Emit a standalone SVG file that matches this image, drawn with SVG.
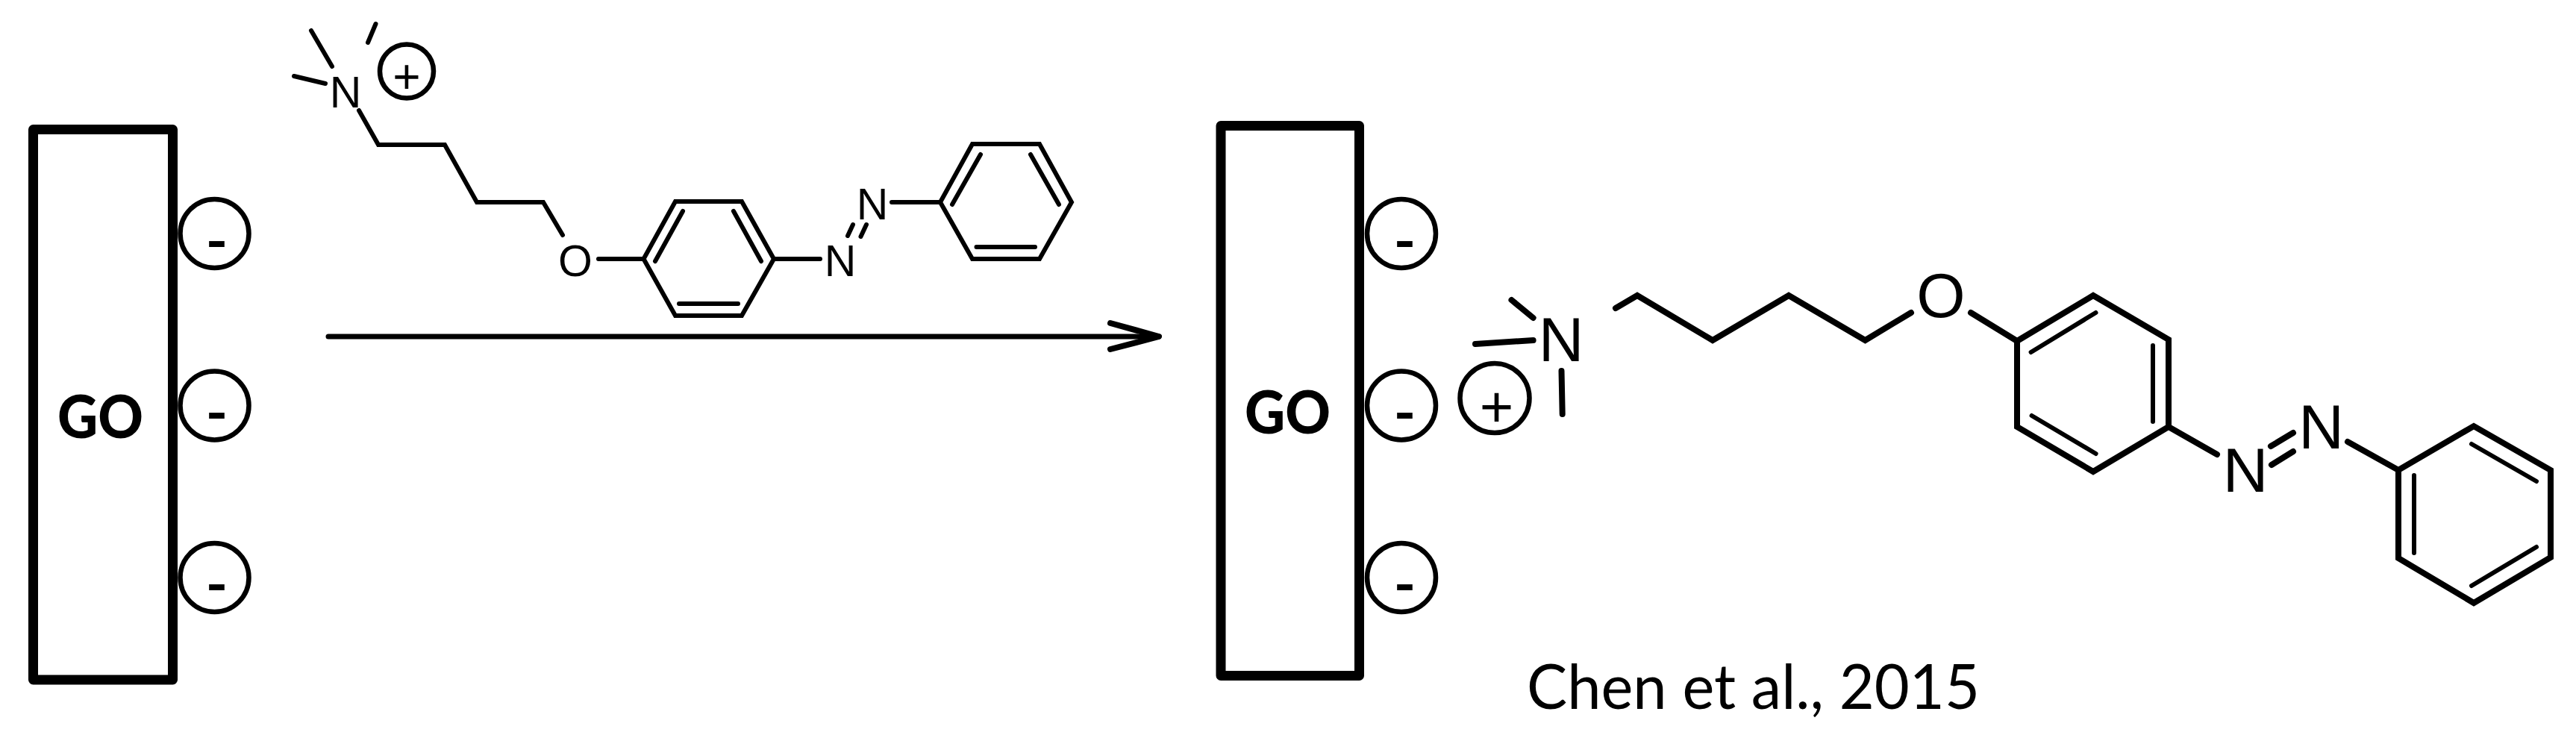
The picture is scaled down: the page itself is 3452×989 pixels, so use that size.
<svg xmlns="http://www.w3.org/2000/svg" width="3452" height="989" viewBox="0 0 3452 989">
<style>
.plate{fill:#fff;stroke:#000;stroke-width:13;stroke-linejoin:round}
.charge{fill:none;stroke:#000;stroke-width:6.500}
.bond{fill:none;stroke:#000;stroke-linecap:round;stroke-linejoin:miter}
.s{stroke-width:6}
.b{stroke-width:8}
.i{stroke-width:6}
.atom{font-family:"Liberation Sans",Arial,sans-serif;text-anchor:middle;fill:#000}
.as{font-size:59px}
.ab{font-size:84px}
.go{font-family:Lato,"Open Sans",sans-serif;font-weight:900;font-size:80px;text-anchor:middle;fill:#000}
.minus{font-family:"Open Sans",sans-serif;font-weight:600;font-size:82px;text-anchor:middle;fill:#000}
.cite{font-family:Lato,"Open Sans",sans-serif;font-size:84px;fill:#000}
</style>
<defs>
<marker id="head" markerUnits="userSpaceOnUse" markerWidth="90" markerHeight="60" refX="70" refY="30" orient="auto">
<path d="M5 12L70 30L5 47" fill="none" stroke="#000" stroke-width="8" stroke-linecap="round" stroke-linejoin="round"/>
</marker>
</defs>
<rect width="3452" height="989" fill="#fff"/>

<g id="connectors">
<path id="reaction-arrow" d="M440 451H1553" fill="none" stroke="#000" stroke-width="7" stroke-linecap="round" marker-end="url(#head)"/>
</g>

<g id="go-left">
<rect class="plate" x="44.500" y="173.500" width="187" height="737.500"/>
<text class="go" x="134.500" y="587" textLength="115" lengthAdjust="spacingAndGlyphs">GO</text>
</g>
<g id="charge-l1"><circle class="charge" cx="287.500" cy="313" r="46"/><text class="minus" x="290.500" y="349">-</text></g>
<g id="charge-l2"><circle class="charge" cx="287.500" cy="543.500" r="46"/><text class="minus" x="290.500" y="579">-</text></g>
<g id="charge-l3"><circle class="charge" cx="287.500" cy="774" r="46"/><text class="minus" x="290.500" y="809">-</text></g>

<g id="reagent">
<path class="bond s" d="M417 41L445 89M503.500 32L493 57M394 102L436 112"/>
<path class="bond s" d="M481 148L507 194H596L639 271H728L754 315"/>
<path class="bond s" d="M802 347H862.500L905 270H994L1037 347L994 423H905L862.500 347M1037 347H1099"/>
<path class="bond i" d="M915 283L878 350M983 283L1020 350M910 407H989"/>
<path class="bond i" d="M1143 301L1136 316M1161 301L1153.500 317"/>
<path class="bond s" d="M1195 271H1260L1303 193H1393L1436 271L1393 347H1303L1260 271"/>
<path class="bond i" d="M1314 207L1276 274M1381 207L1419 274M1308.500 331H1387"/>
<text class="atom as" x="463" y="144">N</text>
<text class="atom as" x="771" y="370">O</text>
<text class="atom as" x="1126" y="370">N</text>
<text class="atom as" x="1169" y="294">N</text>
<circle class="charge" cx="545" cy="95.500" r="36"/>
<text class="atom" font-size="64" x="545" y="125">+</text>
</g>

<g id="go-right">
<rect class="plate" x="1636" y="168.500" width="185.500" height="737"/>
<text class="go" x="1725.500" y="581" textLength="115" lengthAdjust="spacingAndGlyphs">GO</text>
</g>
<g id="charge-r1"><circle class="charge" cx="1878" cy="313" r="46"/><text class="minus" x="1882.500" y="349">-</text></g>
<g id="charge-r2"><circle class="charge" cx="1878" cy="543.500" r="46"/><text class="minus" x="1882.500" y="579">-</text></g>
<g id="charge-r3"><circle class="charge" cx="1878" cy="774" r="46"/><text class="minus" x="1882.500" y="809">-</text></g>

<g id="adsorbed">
<path class="bond b" d="M2025.500 402L2054.600 426M1977 461L2054.600 456M2092.500 497L2093.700 555"/>
<path class="bond b" d="M2165 413L2194 396L2295 456L2397 396L2499.500 456L2561 419"/>
<path class="bond b" d="M2641 419L2703 457L2805 396L2906 455V572L2805 632L2703 572V457M2906 572L2971 609"/>
<path class="bond i" d="M2808.500 419L2721.600 472M2885 463V565M2722.600 557L2808.600 608"/>
<path class="bond b" d="M3043 598L3073 580M3044 623L3073 605"/>
<path class="bond b" d="M3146 592L3214 630L3315 571L3418 630V747L3315 808L3214 748V630"/>
<path class="bond i" d="M3312 595L3399 645M3235 637V741M3399 733L3312 785"/>
<text class="atom ab" x="2092" y="484">N</text>
<text class="atom ab" x="2601" y="425">O</text>
<text class="atom ab" x="3009" y="659">N</text>
<text class="atom ab" x="3110.500" y="601">N</text>
<circle class="charge" cx="2003" cy="533.500" r="46.500"/>
<text class="atom" font-size="78" x="2005.500" y="572">+</text>
</g>

<text id="citation" class="cite" x="2046" y="950" textLength="607" lengthAdjust="spacingAndGlyphs">Chen et al., 2015</text>
</svg>
